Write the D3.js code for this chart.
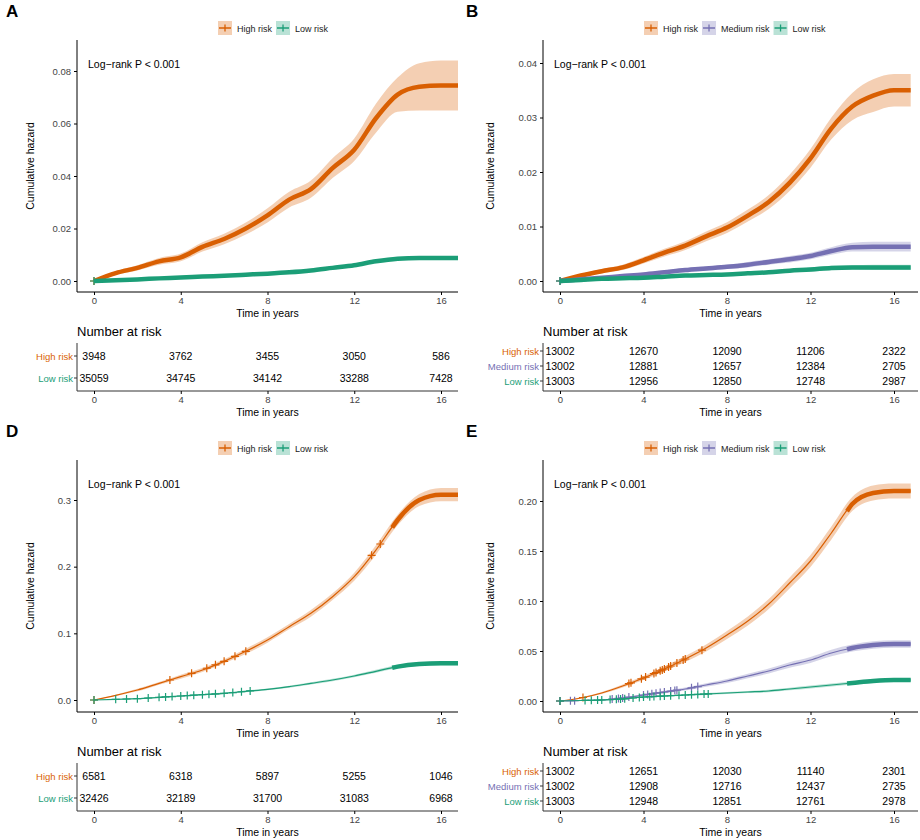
<!DOCTYPE html><html><head><meta charset="utf-8"><script src="https://d3js.org/d3.v7.min.js"></script>
<style>body{margin:0;background:#fff}text{font-family:"Liberation Sans",Arial,sans-serif}</style></head><body>
<svg id="c" width="920" height="840"></svg>
<script>
const times=[0,1,2,3,4,5,6,7,8,9,10,11,12,13,14,15,16,16.8];
const xTicks=[0,4,8,12,16];
// Panel A
const aHigh=[0,0.003,0.005,0.0075,0.009,0.013,0.016,0.02,0.025,0.031,0.035,0.043,0.05,0.062,0.071,0.074,0.0745,0.0745];
const aHighCI=[0,0.0007,0.001,0.0013,0.0015,0.0018,0.002,0.0023,0.0027,0.003,0.0033,0.0038,0.0043,0.0055,0.0065,0.009,0.0095,0.0095];
const aLow=[0,0.0003,0.0006,0.001,0.0013,0.0017,0.002,0.0024,0.0028,0.0033,0.004,0.005,0.006,0.0075,0.0085,0.0088,0.0088,0.0088];
const aLowCI=[0,0.0001,0.0001,0.0002,0.0002,0.0002,0.0003,0.0003,0.0003,0.0003,0.0004,0.0004,0.0005,0.0005,0.0006,0.0006,0.0006,0.0006];
const aRisk=[[3948,3762,3455,3050,586],[35059,34745,34142,33288,7428]];
// Panel B
const bHigh=[0,0.001,0.0018,0.0025,0.0038,0.0052,0.0065,0.0082,0.0098,0.012,0.0145,0.018,0.0225,0.028,0.032,0.034,0.035,0.035];
const bHighCI=[0,0.0003,0.0004,0.0005,0.0006,0.0007,0.0008,0.0009,0.001,0.0011,0.0013,0.0015,0.0017,0.002,0.0025,0.003,0.003,0.003];
const bMed=[0,0.0003,0.0006,0.0009,0.0012,0.0016,0.002,0.0023,0.0026,0.003,0.0035,0.004,0.0046,0.0055,0.0062,0.0063,0.0063,0.0063];
const bMedCI=[0,0.0001,0.0002,0.0002,0.0003,0.0003,0.0004,0.0004,0.0004,0.0005,0.0005,0.0006,0.0006,0.0007,0.0008,0.0009,0.0009,0.0009];
const bLow=[0,0.0002,0.0004,0.0005,0.0006,0.0008,0.001,0.0011,0.0012,0.0014,0.0016,0.0019,0.0021,0.0024,0.0025,0.0025,0.0025,0.0025];
const bLowCI=[0,0.0001,0.0001,0.0001,0.0002,0.0002,0.0002,0.0002,0.0002,0.0003,0.0003,0.0003,0.0004,0.0004,0.0004,0.0005,0.0005,0.0005];
const bRisk=[[13002,12670,12090,11206,2322],[13002,12881,12657,12384,2705],[13003,12956,12850,12748,2987]];
// Panel D
const dHigh=[0,0.007,0.015,0.025,0.035,0.045,0.058,0.073,0.09,0.11,0.13,0.155,0.185,0.225,0.27,0.3,0.308,0.308];
const dHighCI=[0,0.001,0.002,0.002,0.003,0.003,0.003,0.004,0.004,0.004,0.005,0.005,0.006,0.007,0.008,0.009,0.01,0.01];
const dLow=[0,0.001,0.002,0.004,0.006,0.008,0.01,0.013,0.016,0.02,0.025,0.03,0.036,0.043,0.05,0.054,0.055,0.055];
const dLowCI=[0,0.0003,0.0005,0.0007,0.0009,0.001,0.0011,0.0012,0.0013,0.0015,0.0016,0.0018,0.002,0.0022,0.0025,0.0027,0.0028,0.0028];
const dRisk=[[6581,6318,5897,5255,1046],[32426,32189,31700,31083,6968]];
// Panel E
const eHigh=[0,0.003,0.008,0.015,0.023,0.032,0.042,0.053,0.066,0.08,0.097,0.118,0.14,0.168,0.197,0.208,0.21,0.21];
const eHighCI=[0,0.0007,0.001,0.0015,0.002,0.0025,0.003,0.0035,0.004,0.0045,0.005,0.0055,0.006,0.0065,0.007,0.0075,0.0075,0.0075];
const eMed=[0,0.0005,0.001,0.003,0.006,0.009,0.012,0.016,0.02,0.025,0.03,0.036,0.041,0.048,0.053,0.056,0.057,0.057];
const eMedCI=[0,0.0003,0.0005,0.0008,0.001,0.0013,0.0015,0.0018,0.002,0.0023,0.0025,0.0028,0.003,0.0033,0.0035,0.0037,0.0037,0.0037];
const eLow=[0,0.0005,0.001,0.002,0.004,0.005,0.006,0.007,0.008,0.009,0.01,0.012,0.014,0.016,0.018,0.02,0.021,0.021];
const eLowCI=[0,0.0002,0.0003,0.0005,0.0006,0.0007,0.0008,0.0009,0.001,0.0011,0.0012,0.0013,0.0014,0.0015,0.0016,0.0017,0.0017,0.0017];
const eRisk=[[13002,12651,12030,11140,2301],[13002,12908,12716,12437,2735],[13003,12948,12851,12761,2978]];

const COL={high:"#D95F02",med:"#7570B3",low:"#1B9E77"};
const NAME={high:"High risk",med:"Medium risk",low:"Low risk"};
const svg=d3.select("#c");

function panel(o){
  const g=svg.append("g");
  g.append("text").attr("x",o.ox+6).attr("y",o.oy+17).attr("font-size",17).attr("font-weight","bold").text(o.letter);
  const lg=g.append("g").attr("transform",`translate(${o.legX},${o.oy+28})`);
  let lx=0;
  o.series.forEach(s=>{
    lg.append("rect").attr("x",lx).attr("y",-7).attr("width",14).attr("height",14).attr("fill",COL[s.k]).attr("opacity",0.3);
    lg.append("line").attr("x1",lx+1).attr("x2",lx+13).attr("y1",0).attr("y2",0).attr("stroke",COL[s.k]).attr("stroke-width",1.5);
    lg.append("line").attr("x1",lx+7).attr("x2",lx+7).attr("y1",-3.5).attr("y2",3.5).attr("stroke",COL[s.k]).attr("stroke-width",1.3);
    const t=lg.append("text").attr("x",lx+19).attr("y",3.5).attr("font-size",9).attr("fill","#222").text(NAME[s.k]);
    lx+=19+t.node().getComputedTextLength()+4;
  });
  const x=d3.scaleLinear().domain([0,16]).range([o.x0,o.x16]);
  const y=d3.scaleLinear().domain([0,o.yTop]).range([o.y0,o.yT]);
  const left=o.axisX, right=o.ox+458, bottom=o.oy+292;
  const clip="cl"+o.letter;
  g.append("clipPath").attr("id",clip).append("rect").attr("x",left).attr("y",o.oy+40).attr("width",right-left).attr("height",bottom-o.oy-40);
  const pg=g.append("g").attr("clip-path",`url(#${clip})`);
  o.series.forEach(s=>{
    const area=d3.area().x((d,i)=>x(times[i])).y0((d,i)=>y(Math.max(0,d-s.ci[i]))).y1((d,i)=>y(d+s.ci[i])).curve(d3.curveMonotoneX);
    pg.append("path").attr("d",area(s.v)).attr("fill",COL[s.k]).attr("opacity",0.3);
  });
  o.series.forEach(s=>{
    const line=d3.line().x((d,i)=>x(times[i])).y(d=>y(d)).curve(d3.curveMonotoneX);
    pg.append("path").attr("d",line(s.v)).attr("fill","none").attr("stroke",COL[s.k]).attr("stroke-width",o.thick?4.5:1.2);
    if(!o.thick){
      const th=s.v.map((d,i)=>[times[i],d]).filter(p=>p[0]>=14);
      th.unshift([13.75,d3.interpolate(s.v[13],s.v[14])(0.75)]);
      pg.append("path").attr("d",d3.line().x(p=>x(p[0])).y(p=>y(p[1])).curve(d3.curveMonotoneX)(th)).attr("fill","none").attr("stroke",COL[s.k]).attr("stroke-width",4.5);
      (s.marks||[]).forEach(t=>{
        const i=Math.floor(t), f=t-i, val=s.v[i]+(s.v[i+1]-s.v[i])*f;
        pg.append("path").attr("d",`M${x(t)-4},${y(val)}h8M${x(t)},${y(val)-4}v8`).attr("stroke",COL[s.k]).attr("stroke-width",1.2);
      });
    }
    pg.append("path").attr("d",`M${x(0)-4},${y(0)}h8M${x(0)},${y(0)-4}v8`).attr("stroke",COL[s.k]).attr("stroke-width",1.2);
  });
  g.append("g").attr("transform",`translate(0,${bottom})`).call(d3.axisBottom(x).tickValues(xTicks).tickSize(3).tickPadding(2).tickFormat(d3.format("d")))
   .call(a=>{a.select(".domain").attr("d",`M${left},0H${right}`);a.selectAll("text").attr("font-size",9.5).attr("fill","#444")});
  g.append("g").attr("transform",`translate(${left},0)`).call(d3.axisLeft(y).tickValues(o.yTicks).tickSize(3).tickFormat(d3.format(o.fmt)))
   .call(a=>{a.select(".domain").attr("d",`M0,${o.oy+40}V${bottom}`);a.selectAll("text").attr("font-size",9.5).attr("fill","#444")});
  g.append("text").attr("x",(left+right)/2).attr("y",bottom+25).attr("text-anchor","middle").attr("font-size",10.5).text("Time in years");
  g.append("text").attr("transform",`translate(${o.ox+34},${(o.oy+40+bottom)/2}) rotate(-90)`).attr("text-anchor","middle").attr("font-size",10.5).text("Cumulative hazard");
  g.append("text").attr("x",o.x0-6).attr("y",o.oy+68).attr("font-size",10.5).text("Log\u2212rank P < 0.001");
  g.append("text").attr("x",left).attr("y",o.oy+336).attr("font-size",13).text("Number at risk");
  const tb=o.oy+391;
  const rows=o.series.length;
  const ry=rows===2?[o.oy+356,o.oy+378]:[o.oy+351,o.oy+366,o.oy+381];
  g.append("path").attr("d",`M${left},${o.oy+343}V${tb}H${right}`).attr("fill","none").attr("stroke","#333");
  o.series.forEach((s,r)=>{
    g.append("text").attr("x",left-4).attr("y",ry[r]+3.5).attr("text-anchor","end").attr("font-size",9.5).attr("fill",COL[s.k]).text(NAME[s.k]);
    g.append("line").attr("x1",left-3).attr("x2",left).attr("y1",ry[r]).attr("y2",ry[r]).attr("stroke","#333");
    o.risk[r].forEach((n,j)=>g.append("text").attr("x",x(xTicks[j])).attr("y",ry[r]+4).attr("text-anchor","middle").attr("font-size",10.5).text(n));
  });
  g.append("g").attr("transform",`translate(0,${tb})`).call(d3.axisBottom(x).tickValues(xTicks).tickSize(3).tickPadding(2).tickFormat(d3.format("d")))
   .call(a=>{a.select(".domain").remove();a.selectAll("text").attr("font-size",9.5).attr("fill","#444")});
  g.append("text").attr("x",(left+right)/2).attr("y",tb+25).attr("text-anchor","middle").attr("font-size",10.5).text("Time in years");
}

panel({letter:"A",ox:0,oy:0,legX:218,axisX:77,x0:94,x16:441,y0:281,yT:71,yTop:0.08,yTicks:[0,0.02,0.04,0.06,0.08],fmt:".2f",thick:true,
  series:[{k:"high",v:aHigh,ci:aHighCI},{k:"low",v:aLow,ci:aLowCI}],risk:aRisk});
panel({letter:"B",ox:460,oy:0,legX:644,axisX:543,x0:560,x16:894,y0:281,yT:63,yTop:0.04,yTicks:[0,0.01,0.02,0.03,0.04],fmt:".2f",thick:true,
  series:[{k:"high",v:bHigh,ci:bHighCI},{k:"med",v:bMed,ci:bMedCI},{k:"low",v:bLow,ci:bLowCI}],risk:bRisk});
panel({letter:"D",ox:0,oy:420,legX:218,axisX:77,x0:94,x16:441,y0:700,yT:500,yTop:0.3,yTicks:[0,0.1,0.2,0.3],fmt:".1f",thick:false,
  series:[{k:"high",v:dHigh,ci:dHighCI,marks:[3.5,4.5,5.2,5.6,6,6.5,7,12.8,13.2]},{k:"low",v:dLow,ci:dLowCI,marks:[1,1.5,2,2.5,3,3.3,3.6,4,4.3,4.6,5,5.3,5.6,6,6.4,6.8,7.2]}],risk:dRisk});
panel({letter:"E",ox:460,oy:420,legX:644,axisX:543,x0:560,x16:894,y0:701,yT:501,yTop:0.2,yTicks:[0,0.05,0.1,0.15,0.2],fmt:".2f",thick:false,
  series:[{k:"high",v:eHigh,ci:eHighCI,marks:[1.1,3.3,3.4,3.9,4.1,4.5,4.6,4.8,4.9,5,5.2,5.3,5.6,5.9,6,6.8]},
          {k:"med",v:eMed,ci:eMedCI,marks:[0.5,0.7,2.5,2.8,3,3.3,4,4.2,4.4,4.6,4.8,5,5.3,5.5,5.6,6.3,6.6]},
          {k:"low",v:eLow,ci:eLowCI,marks:[1.2,1.5,1.8,2,2.4,2.7,2.9,3.1,3.5,3.8,4,4.3,4.5,4.8,5,5.3,5.7,6,6.3,6.6,6.9,7.1]}],risk:eRisk});
</script></body></html>
